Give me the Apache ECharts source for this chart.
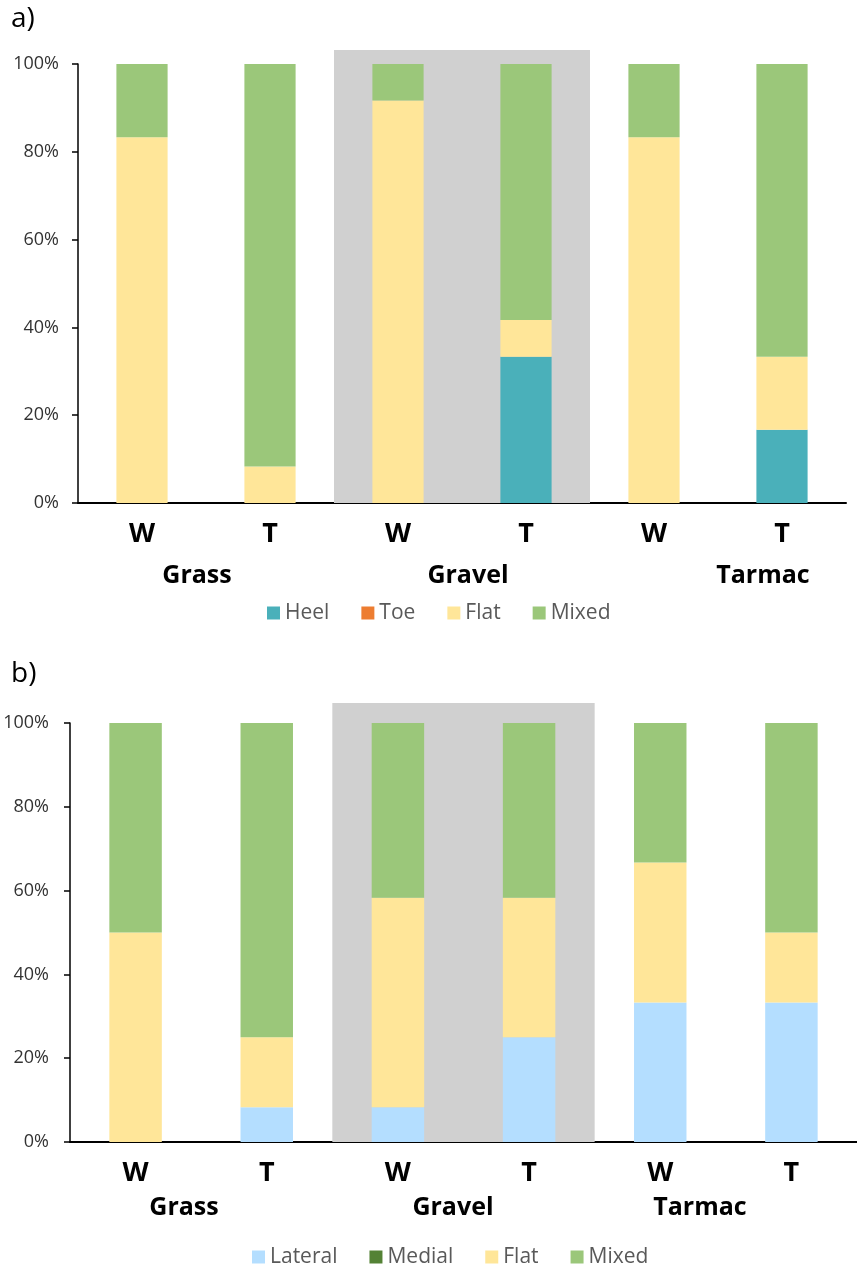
<!DOCTYPE html>
<html>
<head>
<meta charset="utf-8">
<script src="https://cdn.jsdelivr.net/npm/echarts@6/dist/echarts.min.js"></script>
<style>
  html, body { margin: 0; padding: 0; background: #fff; }
  #chart { width: 857px; height: 1268px; }
</style>
</head>
<body>
<div id="chart"></div>
<script>
// Bar categories (condition within each surface)
const categories = ['W', 'T', 'W', 'T', 'W', 'T'];
const surfaces = ['Grass', 'Gravel', 'Tarmac'];
const yTicks = [0, 20, 40, 60, 80, 100];

// a) strike pattern, % of trials
const heelA  = [0, 0, 0, 33.3, 0, 16.7];
const toeA   = [0, 0, 0, 0, 0, 0];
const flatA  = [83.3, 8.3, 91.7, 8.4, 83.3, 16.6];
const mixedA = [16.7, 91.7, 8.3, 58.3, 16.7, 66.7];

// b) foot placement, % of trials
const lateralB = [0, 8.3, 8.3, 25, 33.3, 33.3];
const medialB  = [0, 0, 0, 0, 0, 0];
const flatB    = [50, 16.7, 50, 33.3, 33.4, 16.7];
const mixedB   = [50, 75, 41.7, 41.7, 33.3, 50];

// shaded surface block (Gravel)
const shade = [null, 1, null];

const FONT = "'Open Sans', 'DejaVu Sans', sans-serif";
const COLORS = {
  Heel: '#4AB0BA', Toe: '#ED7D31', Flat: '#FFE699', Mixed: '#9BC77A',
  Lateral: '#B4DEFF', Medial: '#548235'
};
const SHADE = '#D0D0D0';

const chart = echarts.init(document.getElementById('chart'), null, { renderer: 'canvas' });

function mainGrid(left, right, top, bottom) {
  return { left, right, top, bottom, containLabel: false };
}

const grids = [
  mainGrid(78, 11, 64, 765),     // a) plot
  mainGrid(78, 11, 50, 765),     // a) shade
  mainGrid(70, -3, 723, 126),    // b) plot
  mainGrid(70, -3, 703, 126)     // b) shade
];

function catAxis(gridIndex) {
  return {
    type: 'category', gridIndex, data: categories,
    axisLine: { show: true, lineStyle: { color: '#000', width: 2 } },
    axisTick: { show: false },
    axisLabel: {
      color: '#000', fontFamily: FONT, fontWeight: 'bold',
      fontSize: 27, margin: 18
    }
  };
}

function surfaceAxis(gridIndex) {
  return { type: 'category', gridIndex, data: surfaces, show: false };
}

function valAxis(gridIndex, margin) {
  return {
    type: 'value', gridIndex, min: yTicks[0], max: yTicks[yTicks.length - 1],
    interval: yTicks[1] - yTicks[0],
    axisLine: { show: true, lineStyle: { color: '#000', width: 1.5 } },
    axisTick: { show: true, inside: false, length: 6, lineStyle: { color: '#000', width: 1.5 } },
    splitLine: { show: false },
    axisLabel: {
      color: '#333', fontFamily: FONT, fontSize: 18, margin,
      formatter: '{value}%'
    }
  };
}

function hiddenVal(gridIndex) {
  return { type: 'value', gridIndex, min: 0, max: 1, show: false, splitLine: { show: false } };
}

function stackSeries(name, data, axisIdx, stack) {
  return {
    name, type: 'bar', stack, data,
    xAxisIndex: axisIdx, yAxisIndex: axisIdx,
    barCategoryGap: '60%',
    itemStyle: { color: COLORS[name] },
    z: 3
  };
}

function shadeSeries(axisIdx) {
  return {
    name: 'shade', type: 'bar', data: shade,
    xAxisIndex: axisIdx, yAxisIndex: axisIdx,
    barCategoryGap: '0%', silent: true,
    itemStyle: { color: SHADE },
    z: 0
  };
}

function legend(items, left, top) {
  return {
    data: items, left, top, orient: 'horizontal',
    icon: 'rect', itemWidth: 13, itemHeight: 13, itemGap: 32,
    selectedMode: false,
    textStyle: { color: '#595959', fontFamily: FONT, fontSize: 21, lineHeight: 24 }
  };
}

function label(text, x, y, size, bold) {
  return {
    type: 'text', x, y,
    style: {
      text, fill: '#000', font: (bold ? 'bold ' : '') + size + 'px ' + FONT,
      textAlign: 'center', textVerticalAlign: 'middle'
    }
  };
}

chart.setOption({
  animation: false,
  backgroundColor: '#fff',
  grid: grids,
  xAxis: [catAxis(0), surfaceAxis(1), catAxis(2), surfaceAxis(3)],
  yAxis: [valAxis(0, 19), hiddenVal(1), valAxis(2, 21), hiddenVal(3)],
  legend: [
    legend(['Heel', 'Toe', 'Flat', 'Mixed'], 262, 596),
    legend(['Lateral', 'Medial', 'Flat', 'Mixed'], 247, 1240)
  ],
  series: [
    shadeSeries(1),
    stackSeries('Heel', heelA, 0, 'a'),
    stackSeries('Toe', toeA, 0, 'a'),
    stackSeries('Flat', flatA, 0, 'a'),
    stackSeries('Mixed', mixedA, 0, 'a'),
    shadeSeries(3),
    stackSeries('Lateral', lateralB, 2, 'b'),
    stackSeries('Medial', medialB, 2, 'b'),
    stackSeries('Flat', flatB, 2, 'b'),
    stackSeries('Mixed', mixedB, 2, 'b')
  ],
  graphic: [
    { type: 'text', left: 11, top: 5, style: { text: 'a)', fill: '#000', font: '28px ' + FONT } },
    { type: 'text', left: 11, top: 660, style: { text: 'b)', fill: '#000', font: '28px ' + FONT } },
    label(surfaces[0], 197, 576, 25, true),
    label(surfaces[1], 468, 576, 25, true),
    label(surfaces[2], 763, 576, 25, true),
    label(surfaces[0], 184, 1208, 25, true),
    label(surfaces[1], 453, 1208, 25, true),
    label(surfaces[2], 700, 1208, 25, true)
  ]
});
</script>
</body>
</html>
